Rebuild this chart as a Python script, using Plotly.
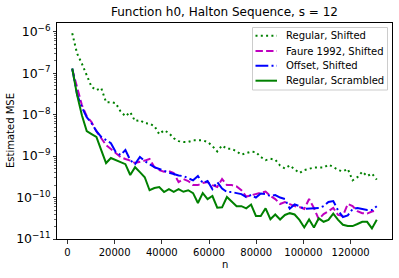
import plotly.graph_objects as go

n = [2048, 4096, 6144, 8192, 10240, 12288, 14336, 16384, 18432, 20480,
     22528, 24576, 26624, 28672, 30720, 32768, 34816, 36864, 38912, 40960,
     43008, 45056, 47104, 49152, 51200, 53248, 55296, 57344, 59392, 61440,
     63488, 65536, 67584, 69632, 71680, 73728, 75776, 77824, 79872, 81920,
     83968, 86016, 88064, 90112, 92160, 94208, 96256, 98304, 100352, 102400,
     104448, 106496, 108544, 110592, 112640, 114688, 116736, 118784, 120832, 122880,
     124928, 126976, 129024, 131072]

regular_shifted = [
    9.2e-7, 3.0e-7, 1.7e-7, 8.9e-8, 4.7e-8, 3.9e-8, 4.4e-8, 2.0e-8, 2.0e-8, 1.9e-8,
    1.2e-8, 9.2e-9, 1.15e-8, 7.0e-9, 7.4e-9, 6.2e-9, 6.1e-9, 5.3e-9, 3.4e-9, 4.2e-9,
    3.6e-9, 2.7e-9, 2.3e-9, 2.2e-9, 2.2e-9, 2.4e-9, 2.4e-9, 2.4e-9, 2.2e-9, 1.75e-9,
    1.3e-9, 1.8e-9, 1.5e-9, 1.5e-9, 1.3e-9, 1.08e-9, 1.18e-9, 1.28e-9, 1.25e-9, 9.5e-10,
    8.0e-10, 8.6e-10, 8.2e-10, 5.9e-10, 5.0e-10, 6.0e-10, 4.8e-10, 3.9e-10, 4.6e-10, 5.0e-10,
    5.3e-10, 5.3e-10, 5.3e-10, 6.2e-10, 5.5e-10, 4.6e-10, 4.3e-10, 4.9e-10, 2.6e-10, 3.1e-10,
    4.2e-10, 3.3e-10, 3.8e-10, 2.7e-10]

faure_shifted = [
    1.25e-7, 4.35e-8, 1.7e-8, 9.2e-9, 6.6e-9, 4.0e-9, 2.7e-9, 1.84e-9, 1.48e-9, 1.18e-9,
    9.5e-10, 8.5e-10, 7.8e-10, 6.8e-10, 7.2e-10, 7.8e-10, 8.5e-10, 5.4e-10, 4.6e-10, 4.2e-10,
    4.35e-10, 3.9e-10, 2.36e-10, 2.8e-10, 2.5e-10, 2.0e-10, 2.0e-10, 2.24e-10, 2.36e-10, 2.0e-10,
    1.8e-10, 2.8e-10, 2.0e-10, 2.0e-10, 1.85e-10, 1.5e-10, 1.06e-10, 1.15e-10, 1.25e-10, 1.3e-10,
    1.4e-10, 1.09e-10, 9.2e-11, 7.0e-11, 7.8e-11, 7.0e-11, 6.2e-11, 5.9e-11, 5.3e-11, 9.2e-11,
    5.6e-11, 3.0e-11, 4.0e-11, 4.7e-11, 5.6e-11, 3.8e-11, 3.6e-11, 7.0e-11, 6.2e-11, 4.7e-11,
    4.2e-11, 4.1e-11, 4.6e-11, 4.9e-11]

offset_shifted = [
    1.3e-7, 3.1e-8, 1.5e-8, 8.7e-9, 6.2e-9, 4.0e-9, 2.9e-9, 2.4e-9, 2.05e-9, 1.25e-9,
    1.06e-9, 1.4e-9, 8.0e-10, 6.4e-10, 9.5e-10, 7.6e-10, 6.4e-10, 5.4e-10, 4.9e-10, 4.35e-10,
    4.0e-10, 3.7e-10, 3.4e-10, 3.3e-10, 2.9e-10, 2.6e-10, 3.3e-10, 2.24e-10, 2.5e-10, 1.6e-10,
    2.36e-10, 1.65e-10, 1.36e-10, 1.36e-10, 1.28e-10, 1.21e-10, 1.03e-10, 1.15e-10, 1.0e-10, 1.25e-10,
    1.21e-10, 1.09e-10, 1.15e-10, 1.0e-10, 9.2e-11, 5.4e-11, 6.8e-11, 6.2e-11, 5.3e-11, 5.4e-11,
    5.7e-11, 5.6e-11, 6.2e-11, 7.8e-11, 8.2e-11, 4.9e-11, 3.4e-11, 3.7e-11, 5.3e-11, 5.6e-11,
    5.3e-11, 5.0e-11, 5.0e-11, 6.2e-11]

regular_scrambled = [
    1.3e-7, 3.0e-8, 9.7e-9, 4.0e-9, 3.4e-9, 2.9e-9, 1.4e-9, 6.8e-10, 9.0e-10, 8.0e-10,
    7.2e-10, 6.4e-10, 3.5e-10, 5.4e-10, 4.1e-10, 3.1e-10, 1.5e-10, 1.7e-10, 1.8e-10, 1.36e-10,
    1.6e-10, 1.38e-10, 1.6e-10, 1.38e-10, 1.5e-10, 1.28e-10, 7.4e-11, 1.28e-10, 9.2e-11, 1.09e-10,
    5.7e-11, 5.8e-11, 1.03e-10, 7.8e-11, 6.2e-11, 6.2e-11, 5.5e-11, 6.8e-11, 3.6e-11, 3.6e-11,
    5.5e-11, 3.0e-11, 3.9e-11, 2.95e-11, 3.8e-11, 4.2e-11, 3.9e-11, 2.9e-11, 1.9e-11, 2.95e-11,
    1.9e-11, 3.15e-11, 2.6e-11, 2.9e-11, 4.1e-11, 2.9e-11, 2.2e-11, 2.05e-11, 2.05e-11, 2.3e-11,
    2.6e-11, 2.6e-11, 1.8e-11, 2.9e-11]

series_names = ["Regular, Shifted", "Faure 1992, Shifted", "Offset, Shifted", "Regular, Scrambled"]
series_values = [regular_shifted, faure_shifted, offset_shifted, regular_scrambled]
series_colors = ["#008000", "#bf00bf", "#0000ff", "#008000"]
series_dashes = ["2px,3.3px", "7.4px,3.2px", "12.8px,3.2px,2px,3.2px", "solid"]

x_ticks = [0, 20000, 40000, 60000, 80000, 100000, 120000]
x_ticktext = ["0", "20000", "40000", "60000", "80000", "100000", "120000"]

FONT = "DejaVu Sans"

fig = go.Figure()
for name, vals, col, dash in zip(series_names, series_values, series_colors, series_dashes):
    fig.add_trace(go.Scatter(x=n, y=vals, mode="lines", name=name, showlegend=False,
                             line=dict(color=col, width=2, dash=dash)))

# manual legend (matplotlib-like)
L, T, B, R = 57, 23, 39, 7
W, H = 399 - L - R, 278 - T - B
def px(xp):
    return (xp - L) / W
def py(yp):
    return (T + H - yp) / H

shapes = [dict(type="rect", xref="paper", yref="paper",
               x0=px(252.5), x1=px(387.5), y0=py(90), y1=py(27.5),
               line=dict(color="#cccccc", width=1), fillcolor="rgba(255,255,255,0.8)",
               layer="above")]
annotations = []
entry_y = [35.7, 51, 65.7, 80.7]
for name, col, dash, yy in zip(series_names, series_colors, series_dashes, entry_y):
    shapes.append(dict(type="line", xref="paper", yref="paper",
                       x0=px(255.5), x1=px(277), y0=py(yy), y1=py(yy),
                       line=dict(color=col, width=2, dash=dash), layer="above"))
    annotations.append(dict(text=name, xref="paper", yref="paper", x=px(284), y=py(yy),
                            xanchor="left", yanchor="middle", showarrow=False,
                            font=dict(family=FONT, size=10, color="black")))

annotations.append(dict(text="Estimated MSE", xref="paper", yref="paper",
                        x=px(10), y=py(131), textangle=-90, xanchor="center", yanchor="middle",
                        showarrow=False, font=dict(family=FONT, size=10, color="black")))
annotations.append(dict(text="n", xref="paper", yref="paper",
                        x=0.5, y=py(264), xanchor="center", yanchor="middle",
                        showarrow=False, font=dict(family=FONT, size=10, color="black")))
annotations.append(dict(text="Function h0, Halton Sequence, s = 12", xref="paper", yref="paper",
                        x=0.5, y=py(12.5), xanchor="center", yanchor="middle",
                        showarrow=False, font=dict(family=FONT, size=12, color="black")))

fig.update_layout(
    template="none",
    width=399, height=278,
    margin=dict(l=L, r=R, t=T, b=B, pad=0, autoexpand=False),
    paper_bgcolor="white", plot_bgcolor="white",
    font=dict(family=FONT, size=10, color="black"),
    shapes=shapes, annotations=annotations,
    showlegend=False,
)
fig.update_xaxes(range=[-4403, 137523], tickvals=x_ticks, ticktext=x_ticktext,
                 automargin=False,
                 ticks="outside", ticklen=3.5, tickwidth=0.8, tickcolor="black",
                 showline=True, linecolor="black", linewidth=1, mirror=True,
                 showgrid=False, zeroline=False, tickfont=dict(family=FONT, size=10))
fig.update_yaxes(type="log", range=[-11, -5.788], dtick=1, exponentformat="power",
                 automargin=False,
                 ticks="outside", ticklen=3.5, tickwidth=0.8, tickcolor="black",
                 minor=dict(ticks="outside", ticklen=2, tickwidth=0.6, tickcolor="black", showgrid=False),
                 showline=True, linecolor="black", linewidth=1, mirror=True,
                 showgrid=False, zeroline=False, tickfont=dict(family=FONT, size=10))

fig.write_html("out.html",
               config={"displayModeBar": False, "staticPlot": True},
               post_script="document.body.style.margin='0';document.body.style.padding='0';")
